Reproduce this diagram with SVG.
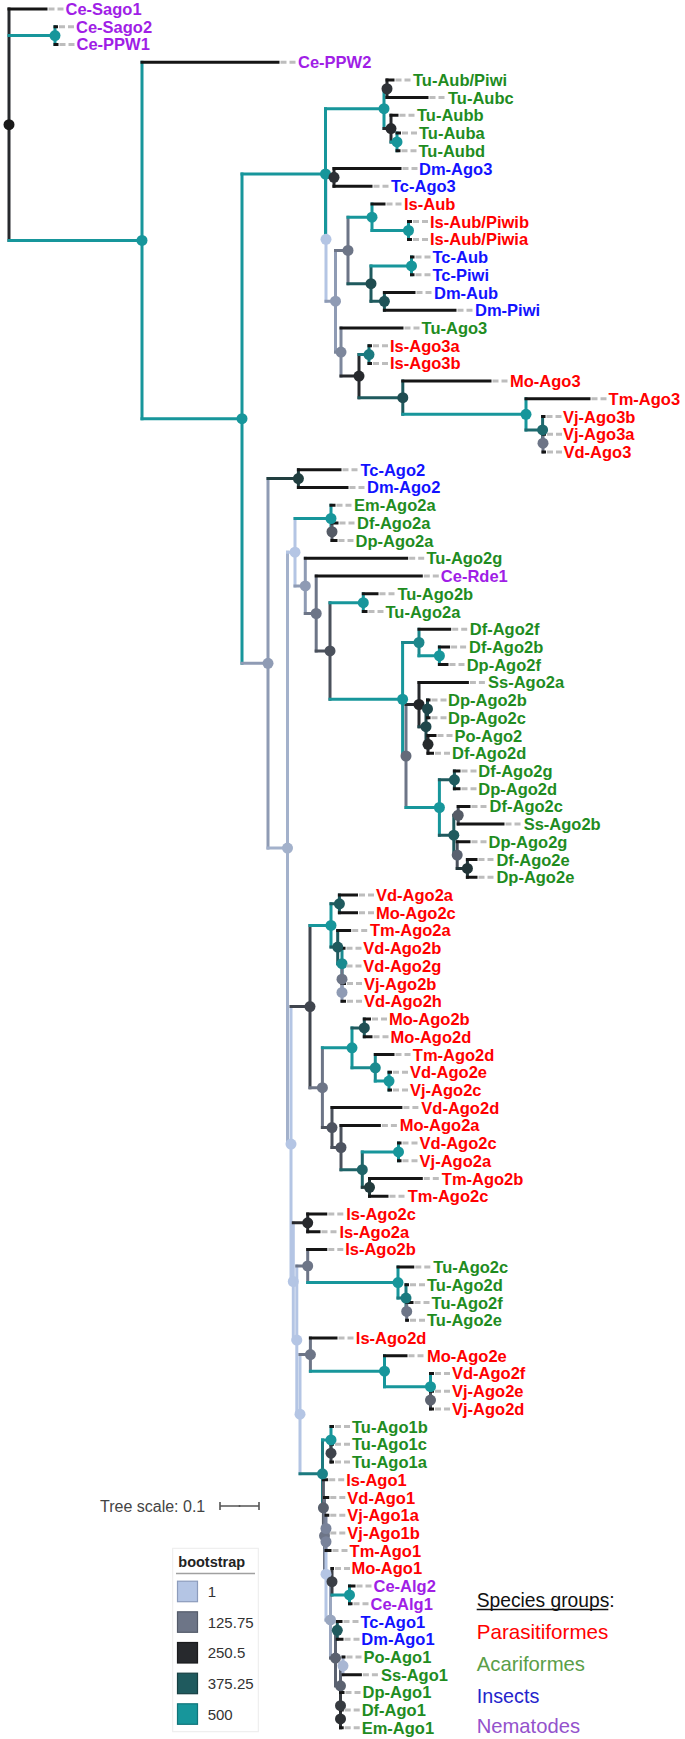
<svg xmlns="http://www.w3.org/2000/svg" width="685" height="1739" viewBox="0 0 685 1739">
<style>
.e{fill:none;stroke-width:3;stroke-linecap:square}
.d{fill:none;stroke:#bdbdbd;stroke-width:3;stroke-dasharray:6 3}
.t{font-family:"Liberation Sans",Arial,Helvetica,sans-serif;font-weight:bold;font-size:16.5px}
.r{fill:#ff0000}.g{fill:#1f8c1f}.u{fill:#1212ff}.p{fill:#a01ee6}
.lg{font-family:"Liberation Sans",Arial,sans-serif}
</style>
<rect width="685" height="1739" fill="#ffffff"/>
<g id="connectors">
<path class="e" stroke="#27292d" d="M9,9V240.4"/>
<path class="e" stroke="#17969b" d="M9,35.55H55M55,26.7V44.4"/>
<path class="e" stroke="#17969b" d="M9,240.4H142M142,62.2V418.65"/>
<path class="e" stroke="#17969b" d="M142,418.65H242M242,174V663.3"/>
<path class="e" stroke="#b4c5e4" d="M325.5,239.3H326M326,177.35V301.2"/>
<path class="e" stroke="#17969b" d="M242,174H325.5M325.5,108.7V239.3"/>
<path class="e" stroke="#17969b" d="M325.5,108.7H384M384,88.75V128.6"/>
<path class="e" stroke="#27292d" d="M384,88.75H387M387,79.9V97.6"/>
<path class="e" stroke="#27292d" d="M384,128.6H391M391,115.3V141.9"/>
<path class="e" stroke="#17969b" d="M391,141.9H397M397,133V150.8"/>
<path class="e" stroke="#27292d" d="M326,177.35H334M334,168.5V186.2"/>
<path class="e" stroke="#8f9bb4" d="M326,301.2H335.5M335.5,250.4V352.05"/>
<path class="e" stroke="#6d7587" d="M335.5,250.4H348M348,217.2V283.65"/>
<path class="e" stroke="#17969b" d="M348,217.2H372M372,203.9V230.5"/>
<path class="e" stroke="#17969b" d="M372,230.5H408.5M408.5,221.6V239.4"/>
<path class="e" stroke="#1f5a5e" d="M348,283.65H371M371,265.95V301.35"/>
<path class="e" stroke="#17969b" d="M371,265.95H411.5M411.5,257.1V274.8"/>
<path class="e" stroke="#1f5a5e" d="M371,301.35H384.4M384.4,292.5V310.2"/>
<path class="e" stroke="#7d879c" d="M335.5,352.05H341M341,328V376.1"/>
<path class="e" stroke="#27292d" d="M341,376.1H359M359,354.55V397.7"/>
<path class="e" stroke="#1c7a7f" d="M359,354.55H369M369,345.7V363.4"/>
<path class="e" stroke="#1f5a5e" d="M359,397.7H402.8M402.8,381.1V414.35"/>
<path class="e" stroke="#17969b" d="M402.8,414.35H526M526,398.8V429.9"/>
<path class="e" stroke="#1e6a6e" d="M526,429.9H542.6M542.6,416.6V443.15"/>
<path class="e" stroke="#6d7587" d="M542.6,443.15H543M543,434.3V452"/>
<path class="e" stroke="#8f9bb4" d="M242,663.3H268M268,478.55V848.1"/>
<path class="e" stroke="#213f40" d="M268,478.55H298.4M298.4,469.7V487.4"/>
<path class="e" stroke="#a3b1cb" d="M268,848.1H287.5M287.5,552.2V1144.05"/>
<path class="e" stroke="#b4c5e4" d="M287.5,552.2H295M295,518.5V585.9"/>
<path class="e" stroke="#17969b" d="M295,518.5H331M331,505.2V531.75"/>
<path class="e" stroke="#555b66" d="M331,531.75H332M332,522.9V540.6"/>
<path class="e" stroke="#8f9bb4" d="M295,585.9H305.3M305.3,558.3V613.5"/>
<path class="e" stroke="#6d7587" d="M305.3,613.5H316.2M316.2,576V650.95"/>
<path class="e" stroke="#4b515c" d="M316.2,650.95H330M330,602.65V699.25"/>
<path class="e" stroke="#17969b" d="M330,602.65H363.3M363.3,593.8V611.5"/>
<path class="e" stroke="#17969b" d="M330,699.25H402.6M402.6,642.5V756"/>
<path class="e" stroke="#1d878c" d="M402.6,642.5H419M419,629.2V655.75"/>
<path class="e" stroke="#17969b" d="M419,655.75H439.4M439.4,646.9V664.6"/>
<path class="e" stroke="#6d7587" d="M402.6,756H406M406,704.5V807.5"/>
<path class="e" stroke="#27292d" d="M406,704.5H419M419,682.4V726.65"/>
<path class="e" stroke="#1f474b" d="M419,726.65H426M426,708.95V744.35"/>
<path class="e" stroke="#1f474b" d="M426,708.95H427.5M427.5,700.1V717.8"/>
<path class="e" stroke="#27292d" d="M426,744.35H428M428,735.5V753.2"/>
<path class="e" stroke="#17969b" d="M406,807.5H439.4M439.4,779.85V835.2"/>
<path class="e" stroke="#1f5a5e" d="M439.4,779.85H454.4M454.4,771V788.7"/>
<path class="e" stroke="#1f5a5e" d="M439.4,835.2H453.8M453.8,815.25V855.1"/>
<path class="e" stroke="#4b515c" d="M453.8,815.25H458.2M458.2,806.4V824.1"/>
<path class="e" stroke="#4b515c" d="M453.8,855.1H457.2M457.2,841.8V868.45"/>
<path class="e" stroke="#223538" d="M457.2,868.45H467.4M467.4,859.6V877.3"/>
<path class="e" stroke="#b4c5e4" d="M287.5,1144.05H291M291,1006.6V1281.5"/>
<path class="e" stroke="#40454e" d="M291,1006.6H310M310,925.45V1087.7"/>
<path class="e" stroke="#17969b" d="M310,925.45H331M331,903.85V947.05"/>
<path class="e" stroke="#1f5a5e" d="M331,903.85H339.4M339.4,895V912.7"/>
<path class="e" stroke="#1f5a5e" d="M331,947.05H337.7M337.7,930.4V963.7"/>
<path class="e" stroke="#1a8a8f" d="M337.7,963.7H342M342,948.2V979.2"/>
<path class="e" stroke="#6d7587" d="M342,965.9V992.45"/>
<path class="e" stroke="#8f9bb4" d="M342,983.6V1001.3"/>
<path class="e" stroke="#6d7587" d="M310,1087.7H322.4M322.4,1047.85V1127.55"/>
<path class="e" stroke="#17969b" d="M322.4,1047.85H352M352,1027.9V1067.8"/>
<path class="e" stroke="#1f5a5e" d="M352,1027.9H364.3M364.3,1019V1036.8"/>
<path class="e" stroke="#1a8a8f" d="M352,1067.8H375.3M375.3,1054.5V1081.05"/>
<path class="e" stroke="#17969b" d="M375.3,1081.05H389M389,1072.2V1089.9"/>
<path class="e" stroke="#4b515c" d="M322.4,1127.55H332M332,1107.6V1147.5"/>
<path class="e" stroke="#4b515c" d="M332,1147.5H341M341,1125.4V1169.65"/>
<path class="e" stroke="#1f6468" d="M341,1169.65H362.3M362.3,1151.95V1187.35"/>
<path class="e" stroke="#17969b" d="M362.3,1151.95H398.5M398.5,1143.1V1160.8"/>
<path class="e" stroke="#223a3c" d="M362.3,1187.35H369.5M369.5,1178.5V1196.2"/>
<path class="e" stroke="#b4c5e4" d="M291,1281.5H293.3M293.3,1222.85V1340.1"/>
<path class="e" stroke="#27292d" d="M293.3,1222.85H307.7M307.7,1214V1231.7"/>
<path class="e" stroke="#b4c5e4" d="M293.3,1340.1H296.8M296.8,1266V1414.2"/>
<path class="e" stroke="#6d7587" d="M296.8,1266H307.7M307.7,1249.4V1282.6"/>
<path class="e" stroke="#17969b" d="M307.7,1282.6H398M398,1267.1V1298.1"/>
<path class="e" stroke="#1c7a7f" d="M398,1298.1H406M406,1284.8V1311.45"/>
<path class="e" stroke="#6d7587" d="M406,1311.45H406.7M406.7,1302.6V1320.3"/>
<path class="e" stroke="#b4c5e4" d="M296.8,1414.2H300M300,1354.6V1473.85"/>
<path class="e" stroke="#6d7587" d="M300,1354.6H310.4M310.4,1338V1371.2"/>
<path class="e" stroke="#17969b" d="M310.4,1371.2H384.5M384.5,1355.7V1386.7"/>
<path class="e" stroke="#17969b" d="M384.5,1386.7H430.5M430.5,1373.4V1400.05"/>
<path class="e" stroke="#4b515c" d="M430.5,1391.2V1408.9"/>
<path class="e" stroke="#1c7a7f" d="M300,1473.85H322.5M322.5,1439.9V1507.8"/>
<path class="e" stroke="#17969b" d="M322.5,1439.9H331M331,1426.6V1453.15"/>
<path class="e" stroke="#3f444c" d="M331,1444.3V1462"/>
<path class="e" stroke="#585f6c" d="M322.5,1507.8H323.4M323.4,1479.8V1535.85"/>
<path class="e" stroke="#6d7587" d="M323.4,1535.85H324.5M324.5,1497.5V1574.2"/>
<path class="e" stroke="#b4c5e4" d="M324.5,1574.2H326M326,1528.5V1619.9"/>
<path class="e" stroke="#79839a" d="M326,1515.2V1541.75"/>
<path class="e" stroke="#79839a" d="M326,1532.9V1550.6"/>
<path class="e" stroke="#99a6bf" d="M326,1619.9H330.5M330.5,1581.7V1658.1"/>
<path class="e" stroke="#3b3f46" d="M330.5,1581.7H332M332,1568.4V1594.95"/>
<path class="e" stroke="#17969b" d="M332,1594.95H349.5M349.5,1586.1V1603.8"/>
<path class="e" stroke="#5b6270" d="M330.5,1658.1H335.5M335.5,1630.35V1685.8"/>
<path class="e" stroke="#1f5a5e" d="M335.5,1630.35H337.3M337.3,1621.5V1639.2"/>
<path class="e" stroke="#5b6270" d="M335.5,1685.8H340.5M340.5,1665.85V1705.7"/>
<path class="e" stroke="#a9b7d3" d="M340.5,1665.85H343M343,1657V1674.7"/>
<path class="e" stroke="#363a40" d="M340.5,1692.4V1718.95"/>
<path class="e" stroke="#2c2f33" d="M340.5,1710.1V1727.8"/>
<path class="e" stroke="#151515" d="M9,9H46M55,26.7H56.5M55,44.4H57M142,62.2H278M387,79.9H393M387,97.6H427M391,115.3H397M397,133H399.5M397,150.8H399M334,168.5H400M334,186.2H371M372,203.9H384M408.5,221.6H410.5M408.5,239.4H410.5M411.5,257.1H413M411.5,274.8H413M384.4,292.5H414M384.4,310.2H455M341,328H402M369,345.7H370.5M369,363.4H370.5M402.8,381.1H490M526,398.8H589M542.6,416.6H544M543,434.3H544.5M543,452H544.5M298.4,469.7H340M298.4,487.4H347M331,505.2H334M332,522.9H337M332,540.6H336M305.3,558.3H406.7M316.2,576H421.3M363.3,593.8H377M363.3,611.5H366M419,629.2H449.7M439.4,646.9H448.6M439.4,664.6H447M419,682.4H467.4M427.5,700.1H429M427.5,717.8H429M428,735.5H435M428,753.2H432.5M454.4,771H459M454.4,788.7H459M458.2,806.4H469M458.2,824.1H503M457.2,841.8H469M467.4,859.6H476M467.4,877.3H476M339.4,895H356.5M339.4,912.7H356.5M337.7,930.4H349.7M342,948.2H344M342,965.9H344M342,983.6H344.5M342,1001.3H344.5M364.3,1019H369.5M364.3,1036.8H371M375.3,1054.5H393M389,1072.2H390.5M389,1089.9H390.5M332,1107.6H400.9M341,1125.4H379.4M398.5,1143.1H400M398.5,1160.8H400M369.5,1178.5H421.3M369.5,1196.2H387M307.7,1214H325.8M307.7,1231.7H319M307.7,1249.4H325.8M398,1267.1H412.8M406,1284.8H407.5M406.7,1302.6H412M406.7,1320.3H407.5M310.4,1338H336M384.5,1355.7H406M430.5,1373.4H432.5M430.5,1391.2H432.5M430.5,1408.9H432.5M331,1426.6H332.5M331,1444.3H332.5M331,1462H332.5M323.4,1479.8H326.7M324.5,1497.5H327.8M326,1515.2H327.8M326,1532.9H327.8M326,1550.6H330M332,1568.4H332.5M349.5,1586.1H354M349.5,1603.8H351M337.3,1621.5H341M337.3,1639.2H342M343,1657H344M343,1674.7H360.4M340.5,1692.4H343M340.5,1710.1H342.2M340.5,1727.8H342.2"/>
</g>
<g id="nodes">
<g id="node-root"><circle cx="9" cy="124.7" r="5.5" fill="#1a1a1a"/></g>
<g id="node-sago"><circle cx="55" cy="35.55" r="5.5" fill="#17969b"/></g>
<g id="node-big"><circle cx="142" cy="240.4" r="5.5" fill="#17969b"/></g>
<g id="node-A"><circle cx="242" cy="418.65" r="5.5" fill="#17969b"/></g>
<g id="node-C"><circle cx="325.5" cy="174" r="5.5" fill="#17969b"/></g>
<g id="node-D"><circle cx="384" cy="108.7" r="5.5" fill="#17969b"/></g>
<g id="node-D1"><circle cx="387" cy="88.75" r="5.5" fill="#303338"/></g>
<g id="node-D2"><circle cx="391" cy="128.6" r="5.5" fill="#27292d"/></g>
<g id="node-D3"><circle cx="397" cy="141.9" r="5.5" fill="#17969b"/></g>
<g id="node-L"><circle cx="326" cy="239.3" r="5.5" fill="#b4c5e4"/></g>
<g id="node-F"><circle cx="334" cy="177.35" r="5.5" fill="#2e3136"/></g>
<g id="node-E"><circle cx="335.5" cy="301.2" r="5.5" fill="#8f9bb4"/></g>
<g id="node-H"><circle cx="348" cy="250.4" r="5.5" fill="#6d7587"/></g>
<g id="node-I"><circle cx="372" cy="217.2" r="5.5" fill="#17969b"/></g>
<g id="node-I2"><circle cx="408.5" cy="230.5" r="5.5" fill="#17969b"/></g>
<g id="node-J"><circle cx="371" cy="283.65" r="5.5" fill="#1f4c50"/></g>
<g id="node-K"><circle cx="411.5" cy="265.95" r="5.5" fill="#17969b"/></g>
<g id="node-M"><circle cx="384.4" cy="301.35" r="5.5" fill="#1f5358"/></g>
<g id="node-G"><circle cx="341" cy="352.05" r="5.5" fill="#7d879c"/></g>
<g id="node-N"><circle cx="359" cy="376.1" r="5.5" fill="#27292d"/></g>
<g id="node-O"><circle cx="369" cy="354.55" r="5.5" fill="#1c7a7f"/></g>
<g id="node-P"><circle cx="402.8" cy="397.7" r="5.5" fill="#1f4d52"/></g>
<g id="node-Q"><circle cx="526" cy="414.35" r="5.5" fill="#17969b"/></g>
<g id="node-R"><circle cx="542.6" cy="429.9" r="5.5" fill="#1e6a6e"/></g>
<g id="node-S"><circle cx="543" cy="443.15" r="5.5" fill="#6d7587"/></g>
<g id="node-B"><circle cx="268" cy="663.3" r="5.5" fill="#8f9bb4"/></g>
<g id="node-T"><circle cx="298.4" cy="478.55" r="5.5" fill="#213f40"/></g>
<g id="node-U"><circle cx="287.5" cy="848.1" r="5.5" fill="#a3b1cb"/></g>
<g id="node-X"><circle cx="295" cy="552.2" r="5.5" fill="#b4c5e4"/></g>
<g id="node-V"><circle cx="331" cy="518.5" r="5.5" fill="#17969b"/></g>
<g id="node-W"><circle cx="332" cy="531.75" r="5.5" fill="#555b66"/></g>
<g id="node-Y"><circle cx="305.3" cy="585.9" r="5.5" fill="#8f9bb4"/></g>
<g id="node-Z"><circle cx="316.2" cy="613.5" r="5.5" fill="#6d7587"/></g>
<g id="node-AA"><circle cx="330" cy="650.95" r="5.5" fill="#4b515c"/></g>
<g id="node-AB"><circle cx="363.3" cy="602.65" r="5.5" fill="#17969b"/></g>
<g id="node-AC"><circle cx="402.6" cy="699.25" r="5.5" fill="#17969b"/></g>
<g id="node-AD"><circle cx="419" cy="642.5" r="5.5" fill="#1d878c"/></g>
<g id="node-AF"><circle cx="439.4" cy="655.75" r="5.5" fill="#17969b"/></g>
<g id="node-AE"><circle cx="406" cy="756" r="5.5" fill="#646b7a"/></g>
<g id="node-AH"><circle cx="419" cy="704.5" r="5.5" fill="#232528"/></g>
<g id="node-AK"><circle cx="426" cy="726.65" r="5.5" fill="#1f474b"/></g>
<g id="node-AL"><circle cx="427.5" cy="708.95" r="5.5" fill="#1f474b"/></g>
<g id="node-N1"><circle cx="428" cy="744.35" r="5.5" fill="#262a2c"/></g>
<g id="node-AI"><circle cx="439.4" cy="807.5" r="5.5" fill="#17969b"/></g>
<g id="node-AM"><circle cx="454.4" cy="779.85" r="5.5" fill="#1f5a5e"/></g>
<g id="node-AN"><circle cx="453.8" cy="835.2" r="5.5" fill="#1f5a5e"/></g>
<g id="node-AO"><circle cx="458.2" cy="815.25" r="5.5" fill="#555b66"/></g>
<g id="node-AP"><circle cx="457.2" cy="855.1" r="5.5" fill="#5a6170"/></g>
<g id="node-AQ"><circle cx="467.4" cy="868.45" r="5.5" fill="#223538"/></g>
<g id="node-V2"><circle cx="291" cy="1144.05" r="5.5" fill="#b4c5e4"/></g>
<g id="node-W2"><circle cx="310" cy="1006.6" r="5.5" fill="#40454e"/></g>
<g id="node-X2"><circle cx="331" cy="925.45" r="5.5" fill="#17969b"/></g>
<g id="node-Y2"><circle cx="339.4" cy="903.85" r="5.5" fill="#1f5a5e"/></g>
<g id="node-Z2"><circle cx="337.7" cy="947.05" r="5.5" fill="#1f5a5e"/></g>
<g id="node-A3"><circle cx="342" cy="963.7" r="5.5" fill="#1a8a8f"/></g>
<g id="node-B3"><circle cx="342" cy="979.2" r="5.5" fill="#6d7587"/></g>
<g id="node-C3"><circle cx="342" cy="992.45" r="5.5" fill="#8f9bb4"/></g>
<g id="node-D3b"><circle cx="322.4" cy="1087.7" r="5.5" fill="#6d7587"/></g>
<g id="node-E3"><circle cx="352" cy="1047.85" r="5.5" fill="#17969b"/></g>
<g id="node-G3"><circle cx="364.3" cy="1027.9" r="5.5" fill="#1f5055"/></g>
<g id="node-H3"><circle cx="375.3" cy="1067.8" r="5.5" fill="#1a8a8f"/></g>
<g id="node-I3"><circle cx="389" cy="1081.05" r="5.5" fill="#17969b"/></g>
<g id="node-F3"><circle cx="332" cy="1127.55" r="5.5" fill="#4d5360"/></g>
<g id="node-J3"><circle cx="341" cy="1147.5" r="5.5" fill="#4d5360"/></g>
<g id="node-K3"><circle cx="362.3" cy="1169.65" r="5.5" fill="#1f6468"/></g>
<g id="node-L3"><circle cx="398.5" cy="1151.95" r="5.5" fill="#17969b"/></g>
<g id="node-M3"><circle cx="369.5" cy="1187.35" r="5.5" fill="#223a3c"/></g>
<g id="node-N3"><circle cx="293.3" cy="1281.5" r="5.5" fill="#b4c5e4"/></g>
<g id="node-O3"><circle cx="307.7" cy="1222.85" r="5.5" fill="#27292d"/></g>
<g id="node-P3"><circle cx="296.8" cy="1340.1" r="5.5" fill="#b4c5e4"/></g>
<g id="node-Q3"><circle cx="307.7" cy="1266" r="5.5" fill="#6d7587"/></g>
<g id="node-W3"><circle cx="398" cy="1282.6" r="5.5" fill="#17969b"/></g>
<g id="node-X3"><circle cx="406" cy="1298.1" r="5.5" fill="#1c7a7f"/></g>
<g id="node-Y3"><circle cx="406.7" cy="1311.45" r="5.5" fill="#6d7587"/></g>
<g id="node-S3"><circle cx="300" cy="1414.2" r="5.5" fill="#b4c5e4"/></g>
<g id="node-T3"><circle cx="310.4" cy="1354.6" r="5.5" fill="#6d7587"/></g>
<g id="node-V3"><circle cx="384.5" cy="1371.2" r="5.5" fill="#17969b"/></g>
<g id="node-Z3"><circle cx="430.5" cy="1386.7" r="5.5" fill="#17969b"/></g>
<g id="node-A4"><circle cx="430.5" cy="1400.05" r="5.5" fill="#5d6370"/></g>
<g id="node-U3"><circle cx="322.5" cy="1473.85" r="5.5" fill="#1c8389"/></g>
<g id="node-B4"><circle cx="331" cy="1439.9" r="5.5" fill="#17969b"/></g>
<g id="node-D4"><circle cx="331" cy="1453.15" r="5.5" fill="#3f444c"/></g>
<g id="node-C4"><circle cx="323.4" cy="1507.8" r="5.5" fill="#585f6c"/></g>
<g id="node-Yy"><circle cx="324.5" cy="1535.85" r="5.5" fill="#6d7587"/></g>
<g id="node-N4"><circle cx="326" cy="1574.2" r="5.5" fill="#b4c5e4"/></g>
<g id="node-Pp"><circle cx="326" cy="1528.5" r="5.5" fill="#79839a"/></g>
<g id="node-Qq"><circle cx="326" cy="1541.75" r="5.5" fill="#79839a"/></g>
<g id="node-M4"><circle cx="330.5" cy="1619.9" r="5.5" fill="#99a6bf"/></g>
<g id="node-L4"><circle cx="332" cy="1581.7" r="5.5" fill="#3b3f46"/></g>
<g id="node-F4"><circle cx="349.5" cy="1594.95" r="5.5" fill="#17969b"/></g>
<g id="node-K4"><circle cx="335.5" cy="1658.1" r="5.5" fill="#5b6270"/></g>
<g id="node-E4"><circle cx="337.3" cy="1630.35" r="5.5" fill="#1f5a5e"/></g>
<g id="node-J4"><circle cx="340.5" cy="1685.8" r="5.5" fill="#5b6270"/></g>
<g id="node-I4"><circle cx="343" cy="1665.85" r="5.5" fill="#a9b7d3"/></g>
<g id="node-H4"><circle cx="340.5" cy="1705.7" r="5.5" fill="#363a40"/></g>
<g id="node-G4"><circle cx="340.5" cy="1718.95" r="5.5" fill="#2c2f33"/></g>
</g>
<g id="leaves">
<g id="leaf-Ce-Sago1"><path class="d" d="M48.5,9h15"/><text class="t p" x="65.5" y="15">Ce-Sago1</text></g>
<g id="leaf-Ce-Sago2"><path class="d" d="M59,26.7h15"/><text class="t p" x="76" y="32.7">Ce-Sago2</text></g>
<g id="leaf-Ce-PPW1"><path class="d" d="M59.5,44.4h15"/><text class="t p" x="76.5" y="50.4">Ce-PPW1</text></g>
<g id="leaf-Ce-PPW2"><path class="d" d="M280.5,62.2h15"/><text class="t p" x="298" y="68.2">Ce-PPW2</text></g>
<g id="leaf-Tu-Aub-Piwi"><path class="d" d="M395.5,79.9h15"/><text class="t g" x="413" y="85.9">Tu-Aub/Piwi</text></g>
<g id="leaf-Tu-Aubc"><path class="d" d="M429.5,97.6h15"/><text class="t g" x="448" y="103.6">Tu-Aubc</text></g>
<g id="leaf-Tu-Aubb"><path class="d" d="M399.5,115.3h15"/><text class="t g" x="417" y="121.3">Tu-Aubb</text></g>
<g id="leaf-Tu-Auba"><path class="d" d="M402,133h15"/><text class="t g" x="419" y="139">Tu-Auba</text></g>
<g id="leaf-Tu-Aubd"><path class="d" d="M401.5,150.8h15"/><text class="t g" x="418.5" y="156.8">Tu-Aubd</text></g>
<g id="leaf-Dm-Ago3"><path class="d" d="M402.5,168.5h15"/><text class="t u" x="419" y="174.5">Dm-Ago3</text></g>
<g id="leaf-Tc-Ago3"><path class="d" d="M373.5,186.2h15"/><text class="t u" x="391" y="192.2">Tc-Ago3</text></g>
<g id="leaf-Is-Aub"><path class="d" d="M386.5,203.9h15"/><text class="t r" x="404" y="209.9">Is-Aub</text></g>
<g id="leaf-Is-Aub-Piwib"><path class="d" d="M413,221.6h15"/><text class="t r" x="430" y="227.6">Is-Aub/Piwib</text></g>
<g id="leaf-Is-Aub-Piwia"><path class="d" d="M413,239.4h15"/><text class="t r" x="430" y="245.4">Is-Aub/Piwia</text></g>
<g id="leaf-Tc-Aub"><path class="d" d="M415.5,257.1h15"/><text class="t u" x="432.5" y="263.1">Tc-Aub</text></g>
<g id="leaf-Tc-Piwi"><path class="d" d="M415.5,274.8h15"/><text class="t u" x="432.5" y="280.8">Tc-Piwi</text></g>
<g id="leaf-Dm-Aub"><path class="d" d="M416.5,292.5h15"/><text class="t u" x="434" y="298.5">Dm-Aub</text></g>
<g id="leaf-Dm-Piwi"><path class="d" d="M457.5,310.2h15"/><text class="t u" x="475" y="316.2">Dm-Piwi</text></g>
<g id="leaf-Tu-Ago3"><path class="d" d="M404.5,328h15"/><text class="t g" x="421.6" y="334">Tu-Ago3</text></g>
<g id="leaf-Is-Ago3a"><path class="d" d="M373,345.7h15"/><text class="t r" x="390" y="351.7">Is-Ago3a</text></g>
<g id="leaf-Is-Ago3b"><path class="d" d="M373,363.4h15"/><text class="t r" x="390" y="369.4">Is-Ago3b</text></g>
<g id="leaf-Mo-Ago3"><path class="d" d="M492.5,381.1h15"/><text class="t r" x="510" y="387.1">Mo-Ago3</text></g>
<g id="leaf-Tm-Ago3"><path class="d" d="M591.5,398.8h15"/><text class="t r" x="608.6" y="404.8">Tm-Ago3</text></g>
<g id="leaf-Vj-Ago3b"><path class="d" d="M546.5,416.6h15"/><text class="t r" x="563" y="422.6">Vj-Ago3b</text></g>
<g id="leaf-Vj-Ago3a"><path class="d" d="M547,434.3h15"/><text class="t r" x="563" y="440.3">Vj-Ago3a</text></g>
<g id="leaf-Vd-Ago3"><path class="d" d="M547,452h15"/><text class="t r" x="563.5" y="458">Vd-Ago3</text></g>
<g id="leaf-Tc-Ago2"><path class="d" d="M342.5,469.7h15"/><text class="t u" x="360.4" y="475.7">Tc-Ago2</text></g>
<g id="leaf-Dm-Ago2"><path class="d" d="M349.5,487.4h15"/><text class="t u" x="367" y="493.4">Dm-Ago2</text></g>
<g id="leaf-Em-Ago2a"><path class="d" d="M336.5,505.2h15"/><text class="t g" x="354" y="511.2">Em-Ago2a</text></g>
<g id="leaf-Df-Ago2a"><path class="d" d="M339.5,522.9h15"/><text class="t g" x="357" y="528.9">Df-Ago2a</text></g>
<g id="leaf-Dp-Ago2a"><path class="d" d="M338.5,540.6h15"/><text class="t g" x="355.5" y="546.6">Dp-Ago2a</text></g>
<g id="leaf-Tu-Ago2g"><path class="d" d="M409.2,558.3h15"/><text class="t g" x="426.5" y="564.3">Tu-Ago2g</text></g>
<g id="leaf-Ce-Rde1"><path class="d" d="M423.8,576h15"/><text class="t p" x="440.8" y="582">Ce-Rde1</text></g>
<g id="leaf-Tu-Ago2b"><path class="d" d="M379.5,593.8h15"/><text class="t g" x="397.4" y="599.8">Tu-Ago2b</text></g>
<g id="leaf-Tu-Ago2a"><path class="d" d="M368.5,611.5h15"/><text class="t g" x="385.5" y="617.5">Tu-Ago2a</text></g>
<g id="leaf-Df-Ago2f"><path class="d" d="M452.2,629.2h15"/><text class="t g" x="469.8" y="635.2">Df-Ago2f</text></g>
<g id="leaf-Df-Ago2b"><path class="d" d="M451.1,646.9h15"/><text class="t g" x="469" y="652.9">Df-Ago2b</text></g>
<g id="leaf-Dp-Ago2f"><path class="d" d="M449.5,664.6h15"/><text class="t g" x="466.7" y="670.6">Dp-Ago2f</text></g>
<g id="leaf-Ss-Ago2a"><path class="d" d="M469.9,682.4h15"/><text class="t g" x="488" y="688.4">Ss-Ago2a</text></g>
<g id="leaf-Dp-Ago2b"><path class="d" d="M431.5,700.1h15"/><text class="t g" x="448" y="706.1">Dp-Ago2b</text></g>
<g id="leaf-Dp-Ago2c"><path class="d" d="M431.5,717.8h15"/><text class="t g" x="448" y="723.8">Dp-Ago2c</text></g>
<g id="leaf-Po-Ago2"><path class="d" d="M437.5,735.5h15"/><text class="t g" x="454.4" y="741.5">Po-Ago2</text></g>
<g id="leaf-Df-Ago2d"><path class="d" d="M435,753.2h15"/><text class="t g" x="452" y="759.2">Df-Ago2d</text></g>
<g id="leaf-Df-Ago2g"><path class="d" d="M461.5,771h15"/><text class="t g" x="478.3" y="777">Df-Ago2g</text></g>
<g id="leaf-Dp-Ago2d"><path class="d" d="M461.5,788.7h15"/><text class="t g" x="478.3" y="794.7">Dp-Ago2d</text></g>
<g id="leaf-Df-Ago2c"><path class="d" d="M471.5,806.4h15"/><text class="t g" x="489.6" y="812.4">Df-Ago2c</text></g>
<g id="leaf-Ss-Ago2b"><path class="d" d="M505.5,824.1h15"/><text class="t g" x="523.7" y="830.1">Ss-Ago2b</text></g>
<g id="leaf-Dp-Ago2g"><path class="d" d="M471.5,841.8h15"/><text class="t g" x="488.6" y="847.8">Dp-Ago2g</text></g>
<g id="leaf-Df-Ago2e"><path class="d" d="M478.5,859.6h15"/><text class="t g" x="496.4" y="865.6">Df-Ago2e</text></g>
<g id="leaf-Dp-Ago2e"><path class="d" d="M478.5,877.3h15"/><text class="t g" x="496.4" y="883.3">Dp-Ago2e</text></g>
<g id="leaf-Vd-Ago2a"><path class="d" d="M359,895h15"/><text class="t r" x="376" y="901">Vd-Ago2a</text></g>
<g id="leaf-Mo-Ago2c"><path class="d" d="M359,912.7h15"/><text class="t r" x="376" y="918.7">Mo-Ago2c</text></g>
<g id="leaf-Tm-Ago2a"><path class="d" d="M352.2,930.4h15"/><text class="t r" x="370" y="936.4">Tm-Ago2a</text></g>
<g id="leaf-Vd-Ago2b"><path class="d" d="M346.5,948.2h15"/><text class="t r" x="363.3" y="954.2">Vd-Ago2b</text></g>
<g id="leaf-Vd-Ago2g"><path class="d" d="M346.5,965.9h15"/><text class="t r" x="363.3" y="971.9">Vd-Ago2g</text></g>
<g id="leaf-Vj-Ago2b"><path class="d" d="M347,983.6h15"/><text class="t r" x="364" y="989.6">Vj-Ago2b</text></g>
<g id="leaf-Vd-Ago2h"><path class="d" d="M347,1001.3h15"/><text class="t r" x="364" y="1007.3">Vd-Ago2h</text></g>
<g id="leaf-Mo-Ago2b"><path class="d" d="M372,1019h15"/><text class="t r" x="389" y="1025">Mo-Ago2b</text></g>
<g id="leaf-Mo-Ago2d"><path class="d" d="M373.5,1036.8h15"/><text class="t r" x="390.6" y="1042.8">Mo-Ago2d</text></g>
<g id="leaf-Tm-Ago2d"><path class="d" d="M395.5,1054.5h15"/><text class="t r" x="412.8" y="1060.5">Tm-Ago2d</text></g>
<g id="leaf-Vd-Ago2e"><path class="d" d="M393,1072.2h15"/><text class="t r" x="410" y="1078.2">Vd-Ago2e</text></g>
<g id="leaf-Vj-Ago2c"><path class="d" d="M393,1089.9h15"/><text class="t r" x="410" y="1095.9">Vj-Ago2c</text></g>
<g id="leaf-Vd-Ago2d"><path class="d" d="M403.4,1107.6h15"/><text class="t r" x="421.3" y="1113.6">Vd-Ago2d</text></g>
<g id="leaf-Mo-Ago2a"><path class="d" d="M381.9,1125.4h15"/><text class="t r" x="399.8" y="1131.4">Mo-Ago2a</text></g>
<g id="leaf-Vd-Ago2c"><path class="d" d="M402.5,1143.1h15"/><text class="t r" x="419.6" y="1149.1">Vd-Ago2c</text></g>
<g id="leaf-Vj-Ago2a"><path class="d" d="M402.5,1160.8h15"/><text class="t r" x="419.6" y="1166.8">Vj-Ago2a</text></g>
<g id="leaf-Tm-Ago2b"><path class="d" d="M423.8,1178.5h15"/><text class="t r" x="441.8" y="1184.5">Tm-Ago2b</text></g>
<g id="leaf-Tm-Ago2c"><path class="d" d="M389.5,1196.2h15"/><text class="t r" x="407.7" y="1202.2">Tm-Ago2c</text></g>
<g id="leaf-Is-Ago2c"><path class="d" d="M328.3,1214h15"/><text class="t r" x="346.2" y="1220">Is-Ago2c</text></g>
<g id="leaf-Is-Ago2a"><path class="d" d="M321.5,1231.7h15"/><text class="t r" x="339.4" y="1237.7">Is-Ago2a</text></g>
<g id="leaf-Is-Ago2b"><path class="d" d="M328.3,1249.4h15"/><text class="t r" x="345.2" y="1255.4">Is-Ago2b</text></g>
<g id="leaf-Tu-Ago2c"><path class="d" d="M415.3,1267.1h15"/><text class="t g" x="433.3" y="1273.1">Tu-Ago2c</text></g>
<g id="leaf-Tu-Ago2d"><path class="d" d="M410,1284.8h15"/><text class="t g" x="427" y="1290.8">Tu-Ago2d</text></g>
<g id="leaf-Tu-Ago2f"><path class="d" d="M414.5,1302.6h15"/><text class="t g" x="431.6" y="1308.6">Tu-Ago2f</text></g>
<g id="leaf-Tu-Ago2e"><path class="d" d="M410,1320.3h15"/><text class="t g" x="427" y="1326.3">Tu-Ago2e</text></g>
<g id="leaf-Is-Ago2d"><path class="d" d="M338.5,1338h15"/><text class="t r" x="355.8" y="1344">Is-Ago2d</text></g>
<g id="leaf-Mo-Ago2e"><path class="d" d="M408.5,1355.7h15"/><text class="t r" x="427" y="1361.7">Mo-Ago2e</text></g>
<g id="leaf-Vd-Ago2f"><path class="d" d="M435,1373.4h15"/><text class="t r" x="452" y="1379.4">Vd-Ago2f</text></g>
<g id="leaf-Vj-Ago2e"><path class="d" d="M435,1391.2h15"/><text class="t r" x="452" y="1397.2">Vj-Ago2e</text></g>
<g id="leaf-Vj-Ago2d"><path class="d" d="M435,1408.9h15"/><text class="t r" x="452" y="1414.9">Vj-Ago2d</text></g>
<g id="leaf-Tu-Ago1b"><path class="d" d="M335,1426.6h15"/><text class="t g" x="352" y="1432.6">Tu-Ago1b</text></g>
<g id="leaf-Tu-Ago1c"><path class="d" d="M335,1444.3h15"/><text class="t g" x="352" y="1450.3">Tu-Ago1c</text></g>
<g id="leaf-Tu-Ago1a"><path class="d" d="M335,1462h15"/><text class="t g" x="352" y="1468">Tu-Ago1a</text></g>
<g id="leaf-Is-Ago1"><path class="d" d="M329.2,1479.8h15"/><text class="t r" x="346.2" y="1485.8">Is-Ago1</text></g>
<g id="leaf-Vd-Ago1"><path class="d" d="M330.3,1497.5h15"/><text class="t r" x="347.3" y="1503.5">Vd-Ago1</text></g>
<g id="leaf-Vj-Ago1a"><path class="d" d="M330.3,1515.2h15"/><text class="t r" x="347.3" y="1521.2">Vj-Ago1a</text></g>
<g id="leaf-Vj-Ago1b"><path class="d" d="M330.3,1532.9h15"/><text class="t r" x="347.3" y="1538.9">Vj-Ago1b</text></g>
<g id="leaf-Tm-Ago1"><path class="d" d="M332.5,1550.6h15"/><text class="t r" x="349.6" y="1556.6">Tm-Ago1</text></g>
<g id="leaf-Mo-Ago1"><path class="d" d="M335,1568.4h15"/><text class="t r" x="351.5" y="1574.4">Mo-Ago1</text></g>
<g id="leaf-Ce-Alg2"><path class="d" d="M356.5,1586.1h15"/><text class="t p" x="373.5" y="1592.1">Ce-Alg2</text></g>
<g id="leaf-Ce-Alg1"><path class="d" d="M353.5,1603.8h15"/><text class="t p" x="370.5" y="1609.8">Ce-Alg1</text></g>
<g id="leaf-Tc-Ago1"><path class="d" d="M343.5,1621.5h15"/><text class="t u" x="360.4" y="1627.5">Tc-Ago1</text></g>
<g id="leaf-Dm-Ago1"><path class="d" d="M344.5,1639.2h15"/><text class="t u" x="361.3" y="1645.2">Dm-Ago1</text></g>
<g id="leaf-Po-Ago1"><path class="d" d="M346.5,1657h15"/><text class="t g" x="363.5" y="1663">Po-Ago1</text></g>
<g id="leaf-Ss-Ago1"><path class="d" d="M362.9,1674.7h15"/><text class="t g" x="381" y="1680.7">Ss-Ago1</text></g>
<g id="leaf-Dp-Ago1"><path class="d" d="M345.5,1692.4h15"/><text class="t g" x="362.6" y="1698.4">Dp-Ago1</text></g>
<g id="leaf-Df-Ago1"><path class="d" d="M344.7,1710.1h15"/><text class="t g" x="361.7" y="1716.1">Df-Ago1</text></g>
<g id="leaf-Em-Ago1"><path class="d" d="M344.7,1727.8h15"/><text class="t g" x="361.7" y="1733.8">Em-Ago1</text></g>
</g>
<g id="tree-scale">
<text class="lg" x="100" y="1511.5" font-size="16" fill="#444">Tree scale: 0.1</text>
<path d="M220,1506H259M220,1502V1510M259,1502V1510M239.5,1505V1507" stroke="#555" stroke-width="1.6" fill="none"/>
</g>
<g id="bootstrap-legend">
<rect x="172.7" y="1548.3" width="85.6" height="183.4" fill="#ffffff" stroke="#ececec" stroke-width="1"/>
<text class="lg" x="178.3" y="1566.5" font-size="14.5" font-weight="bold" fill="#222">bootstrap</text>
<path d="M176,1573.5H255" stroke="#a0a0a0" stroke-width="1.5"/>
<rect x="177.5" y="1581.2" width="20" height="20.5" fill="#b4c5e4" stroke="#8c9cbc" stroke-width="1.2"/>
<rect x="177.5" y="1611.8" width="20" height="20.5" fill="#6d7587" stroke="#545b6a" stroke-width="1.2"/>
<rect x="177.5" y="1642.5" width="20" height="20.5" fill="#27292d" stroke="#1a1b1d" stroke-width="1.2"/>
<rect x="177.5" y="1673.2" width="20" height="20.5" fill="#1f5a5e" stroke="#163f42" stroke-width="1.2"/>
<rect x="177.5" y="1703.8" width="20" height="20.5" fill="#17969b" stroke="#11757a" stroke-width="1.2"/>
<text class="lg" x="207.7" y="1597" font-size="15" fill="#333">1</text>
<text class="lg" x="207.7" y="1627.6" font-size="15" fill="#333">125.75</text>
<text class="lg" x="207.7" y="1658.3" font-size="15" fill="#333">250.5</text>
<text class="lg" x="207.7" y="1689" font-size="15" fill="#333">375.25</text>
<text class="lg" x="207.7" y="1719.6" font-size="15" fill="#333">500</text>
</g>
<g id="species-legend">
<text class="lg" x="476.7" y="1607" font-size="21" fill="#111" textLength="138" lengthAdjust="spacingAndGlyphs">Species groups:</text>
<path d="M476.7,1609.5H608.3" stroke="#111" stroke-width="1.6"/>
<text class="lg" x="476.7" y="1639.3" font-size="21" fill="#ff0000" textLength="131.6" lengthAdjust="spacingAndGlyphs">Parasitiformes</text>
<text class="lg" x="476.7" y="1670.7" font-size="21" fill="#5a9e48" textLength="108.3" lengthAdjust="spacingAndGlyphs">Acariformes</text>
<text class="lg" x="476.7" y="1702.7" font-size="21" fill="#2424cc" textLength="62.6" lengthAdjust="spacingAndGlyphs">Insects</text>
<text class="lg" x="476.7" y="1733.3" font-size="21" fill="#9452cc" textLength="103.3" lengthAdjust="spacingAndGlyphs">Nematodes</text>
</g>
</svg>
